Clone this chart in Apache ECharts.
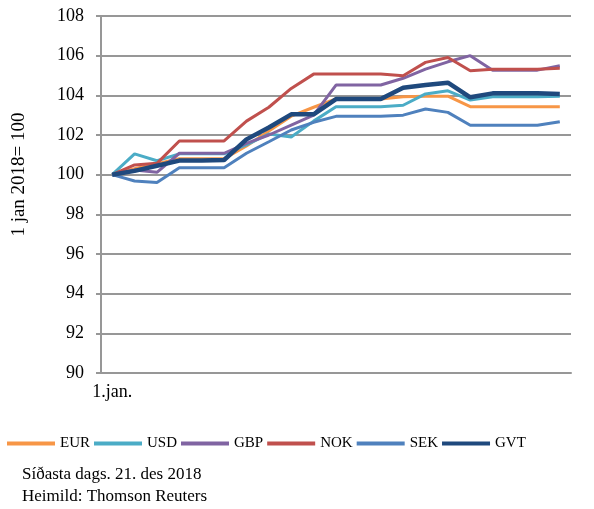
<!DOCTYPE html>
<html>

<head>
    <meta charset="UTF-8">
    <title>Gengi</title>
    <script src="https://cdn.jsdelivr.net/npm/echarts@6/dist/echarts.min.js"></script>
</head>

<body style="margin:0;">
    <div id="chartBox" style="width: 594px;height:509px;"></div>

    <script>
        // dagsetningar (aðeins fyrsta er sýnd á ásnum)
        var dates = ['1.jan.', '19.jan.', '6.feb.', '23.feb.', '13.mar.', '30.mar.', '17.apr.', '4.maí', '22.maí', '8.jún.',
            '26.jún.', '13.júl.', '31.júl.', '17.ágú.', '4.sep.', '21.sep.', '9.okt.', '26.okt.', '13.nóv.', '30.nóv.', '21.des.'];

        var yTicks = [90, 92, 94, 96, 98, 100, 102, 104, 106, 108];

        var eur = [100, 100.3, 100.55, 100.8, 100.8, 100.8, 101.45, 102.2, 102.95, 103.4, 103.82, 103.82, 103.82, 103.93, 103.96, 103.96, 103.43, 103.43, 103.43, 103.43, 103.43];
        var usd = [100, 101.05, 100.7, 101.05, 101.05, 101.05, 101.5, 102.05, 101.9, 102.7, 103.43, 103.43, 103.43, 103.5, 104.07, 104.23, 103.76, 103.93, 103.93, 103.93, 103.96];
        var gbp = [100, 100.24, 100.12, 101.08, 101.08, 101.08, 101.58, 102.0, 102.5, 103.0, 104.52, 104.52, 104.52, 104.86, 105.32, 105.69, 106.0, 105.27, 105.27, 105.27, 105.49];
        var nok = [100, 100.49, 100.57, 101.7, 101.7, 101.7, 102.7, 103.4, 104.35, 105.07, 105.07, 105.07, 105.07, 104.99, 105.66, 105.91, 105.24, 105.32, 105.32, 105.32, 105.36];
        var sek = [100, 99.68, 99.6, 100.35, 100.35, 100.35, 101.08, 101.66, 102.25, 102.64, 102.94, 102.94, 102.94, 103.0, 103.31, 103.14, 102.49, 102.49, 102.49, 102.49, 102.67];
        var gvt = [100, 100.19, 100.45, 100.71, 100.71, 100.74, 101.78, 102.38, 103.04, 103.04, 103.81, 103.81, 103.81, 104.38, 104.52, 104.64, 103.9, 104.1, 104.1, 104.1, 104.07];

        var names = ['EUR', 'USD', 'GBP', 'NOK', 'SEK', 'GVT'];
        var values = [eur, usd, gbp, nok, sek, gvt];
        var colors = ['#F79646', '#4BACC6', '#8064A2', '#C0504D', '#4F81BD', '#1F497D'];
        var widths = [3, 3, 3, 3, 3, 4.5];

        var font = 'Liberation Serif';
        var gridColor = '#979797';

        var myChart = echarts.init(document.getElementById('chartBox'));

        var series = [];
        for (var i = 0; i < names.length; i++) {
            series.push({
                name: names[i],
                type: 'line',
                data: values[i],
                symbol: 'none',
                lineStyle: { width: widths[i], color: colors[i] },
                itemStyle: { color: colors[i] }
            });
        }

        var option = {
            animation: false,
            grid: {
                left: 101,
                right: 23,
                top: 16,
                bottom: 136
            },
            legend: {
                left: 7,
                top: 436,
                padding: 0,
                icon: 'rect',
                itemWidth: 48,
                itemHeight: 4,
                itemGap: 4,
                textStyle: { fontFamily: font, fontSize: 15, color: '#000' },
                data: names
            },
            xAxis: {
                type: 'category',
                data: dates,
                boundaryGap: true,
                axisLine: { lineStyle: { color: gridColor, width: 2 } },
                axisTick: { show: false },
                axisLabel: {
                    interval: function (idx) { return idx === 0; },
                    fontFamily: font,
                    fontSize: 18,
                    color: '#000',
                    margin: 10
                }
            },
            yAxis: {
                type: 'value',
                min: yTicks[0],
                max: yTicks[yTicks.length - 1],
                interval: 2,
                name: '1 jan 2018= 100',
                nameLocation: 'middle',
                nameRotate: 90,
                nameGap: 72,
                nameTextStyle: { fontFamily: font, fontSize: 19, color: '#000', padding: [0, 0, 0, 40] },
                axisLine: { show: true, lineStyle: { color: gridColor, width: 2 } },
                axisTick: { show: true, length: 5, lineStyle: { color: gridColor, width: 2 } },
                axisLabel: { fontFamily: font, fontSize: 18, color: '#000', margin: 17 },
                splitLine: { lineStyle: { color: gridColor, width: 2 } }
            },
            graphic: [{
                type: 'text',
                left: 22,
                top: 466,
                style: { text: 'Síðasta dags. 21. des 2018', font: '17px "Liberation Serif"', fill: '#000' }
            }, {
                type: 'text',
                left: 22,
                top: 488,
                style: { text: 'Heimild: Thomson Reuters', font: '17px "Liberation Serif"', fill: '#000' }
            }],
            series: series
        };

        myChart.setOption(option);
    </script>

</body>

</html>
